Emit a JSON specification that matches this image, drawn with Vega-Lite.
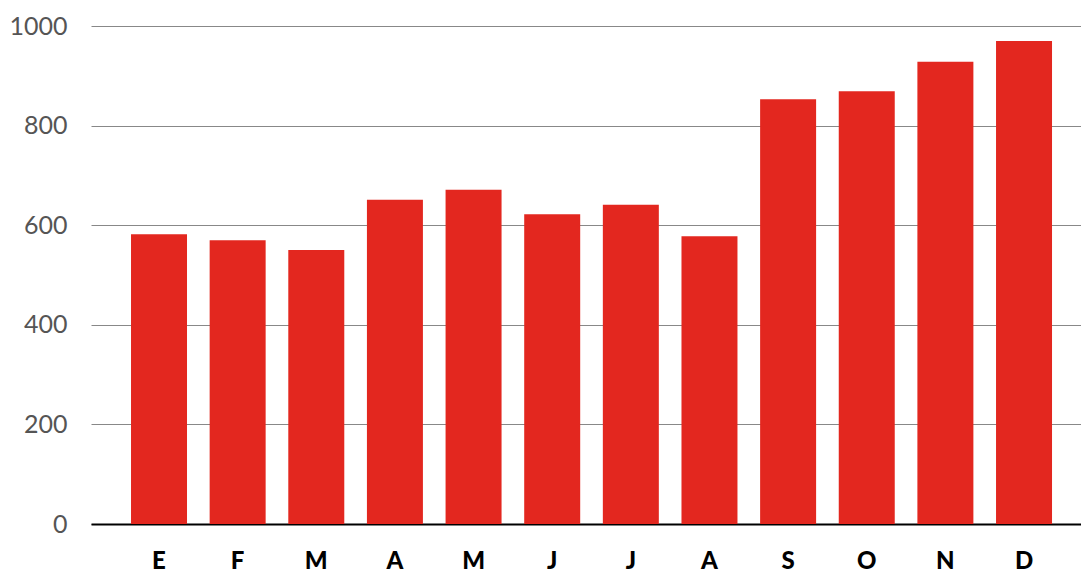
{
  "$schema": "https://vega.github.io/schema/vega-lite/v6.json",
  "width": 990,
  "height": 498,
  "autosize": {"type": "none"},
  "padding": {"left": 91, "top": 26, "right": 0, "bottom": 48},
  "background": "white",
  "config": {"view": {"stroke": null}},
  "data": {
    "values": [
      {"mes": "E", "valor": 582},
      {"mes": "F", "valor": 570},
      {"mes": "M1", "valor": 550},
      {"mes": "A1", "valor": 651},
      {"mes": "M2", "valor": 671},
      {"mes": "J1", "valor": 622},
      {"mes": "J2", "valor": 641},
      {"mes": "A2", "valor": 578},
      {"mes": "S", "valor": 853},
      {"mes": "O", "valor": 869},
      {"mes": "N", "valor": 928},
      {"mes": "D", "valor": 970}
    ]
  },
  "mark": {"type": "bar", "color": "#e3271f"},
  "encoding": {
    "x": {
      "field": "mes",
      "type": "nominal",
      "sort": null,
      "scale": {"paddingInner": 0.288, "paddingOuter": 0.4387, "align": 0.58},
      "axis": {
        "title": null,
        "labelAngle": 0,
        "labelExpr": "substring(datum.label, 0, 1)",
        "labelFont": "Lato",
        "labelFontWeight": 900,
        "labelFontSize": 24,
        "labelColor": "#000000",
        "labelPadding": 25,
        "ticks": false,
        "domainColor": "#000000",
        "domainWidth": 2,
        "grid": false
      }
    },
    "y": {
      "field": "valor",
      "type": "quantitative",
      "scale": {"domain": [0, 1000], "nice": false},
      "axis": {
        "title": null,
        "format": "d",
        "values": [0, 200, 400, 600, 800, 1000],
        "labelFont": "Lato",
        "labelFontSize": 25,
        "labelColor": "#555555",
        "labelPadding": 24,
        "ticks": false,
        "tickSize": 0,
        "domain": false,
        "grid": true,
        "gridColor": "#888888",
        "gridWidth": 1,
        "gridOpacity": 1
      }
    }
  }
}
